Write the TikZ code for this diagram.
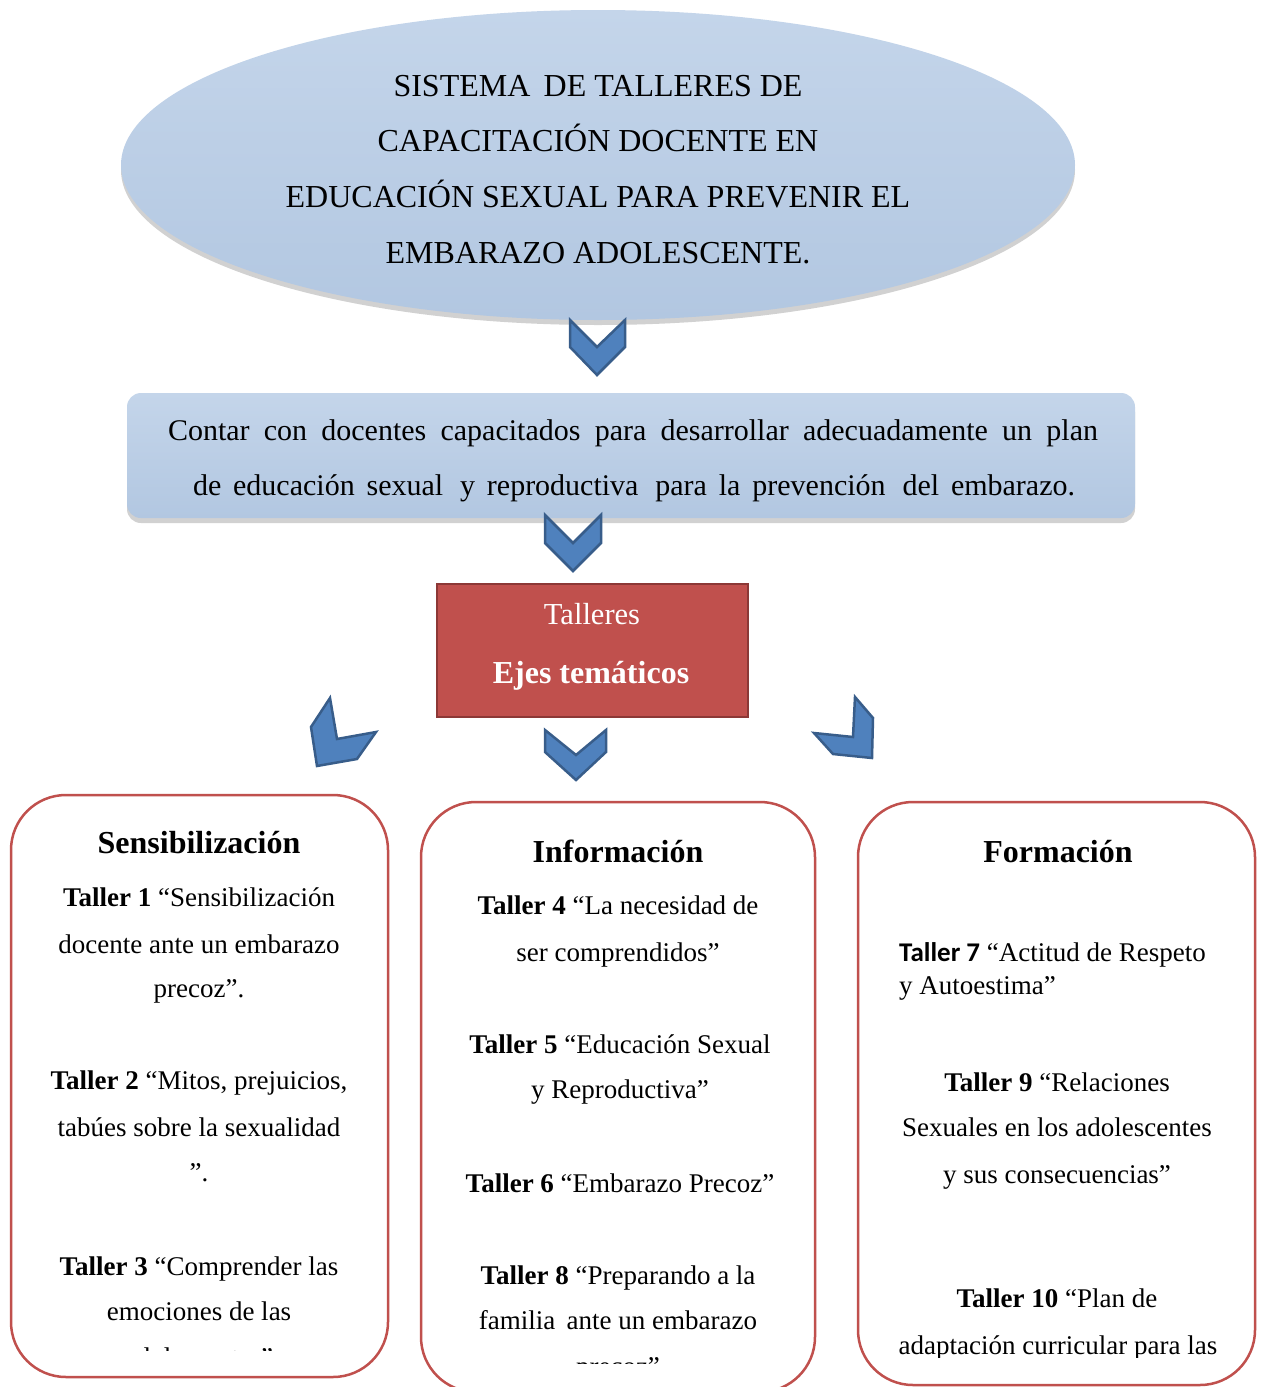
\documentclass[tikz,border=0pt]{standalone}
\usepackage{fontspec}
\setmainfont{Liberation Serif}
\newfontfamily\calib{Carlito}
\usetikzlibrary{shapes.geometric,shadows}
\definecolor{chev}{HTML}{4F81BD}
\definecolor{chevd}{HTML}{385D8A}
\definecolor{redf}{HTML}{C0504D}
\definecolor{redd}{HTML}{8C3836}
\definecolor{bluet}{HTML}{C4D5EA}
\definecolor{blueb}{HTML}{B2C7E1}
\begin{document}
\begin{tikzpicture}[x=1pt,y=-1pt,
  chevron/.style={fill=chev,draw=chevd,line width=2.5pt,line join=miter},
  themebox/.style={draw=redf,line width=2.5pt,fill=white,rounded corners=55pt},
  ttl/.style={anchor=base,inner sep=0pt,font=\fontsize{32}{38}\selectfont},
  goaltxt/.style={anchor=base,inner sep=0pt,font=\fontsize{30}{36}\selectfont},
  redtxt/.style={anchor=base,inner sep=0pt,text=white,font=\fontsize{30.5}{36}\selectfont},
  head/.style={anchor=base,inner sep=0pt,font=\fontsize{32}{38}\selectfont\bfseries},
  body/.style={anchor=base,inner sep=0pt,font=\fontsize{27}{32}\selectfont},
  bodyl/.style={body,anchor=base west},
  softshadow/.style={drop shadow={shadow xshift=0pt,shadow yshift=-5pt,fill=black!45,opacity=0.4}}]
\useasboundingbox (0,0) rectangle (1261,1387);
\fill[white] (0,0) rectangle (1261,1387);

% title ellipse
\node[ellipse,minimum width=954pt,minimum height=310pt,top color=bluet,bottom color=blueb,softshadow] (title) at (598,165) {};
\node[ttl] (t1) at (598,96) {SISTEMA\, DE TALLERES DE};
\node[ttl] (t2) at (598,151) {CAPACITACIÓN DOCENTE EN};
\node[ttl] (t3) at (598,207) {EDUCACIÓN SEXUAL PARA PREVENIR EL};
\node[ttl] (t4) at (598,263) {EMBARAZO ADOLESCENTE.};

% chevron 1
\draw[chevron] (570,320) -- (597,347) -- (625,320) -- (625,347) -- (597,375) -- (570,347) -- cycle;

% goal rectangle
\node[rectangle,rounded corners=14pt,minimum width=1008pt,minimum height=125pt,top color=bluet,bottom color=blueb,softshadow] (goal) at (631,455.5) {};
\node[goaltxt] (g1) at (633,440) {\makebox[930pt][s]{Contar con docentes capacitados para desarrollar adecuadamente un plan}};
\node[goaltxt] (g2) at (634,495) {\makebox[882pt][s]{de educación sexual\, y reproductiva\, para la prevención\, del embarazo.}};

% chevron 2
\draw[chevron] (545,515) -- (573,543) -- (601,515) -- (601,543) -- (573,571) -- (545,543) -- cycle;

% talleres box
\node[rectangle,fill=redf,draw=redd,line width=2pt,minimum width=311pt,minimum height=133pt] (talleres) at (592.5,650.5) {};
\node[redtxt] (r1) at (592,624) {Talleres};
\node[redtxt,font=\fontsize{32}{38}\selectfont\bfseries] (r2) at (591,683) {Ejes temáticos};

% three chevrons
\draw[chevron] (330,698) -- (311,727) -- (317,766) -- (357,759) -- (376,732) -- (337,739) -- cycle;
\draw[chevron] (545,730) -- (576,755) -- (606,730) -- (606,752) -- (576,780) -- (545,752) -- cycle;
\draw[chevron] (855,697) -- (873,718) -- (872,758) -- (833,754) -- (814,733) -- (853,737) -- cycle;

% theme boxes
\draw[themebox] (11,795) rectangle (388,1377);
\draw[themebox] (421,802) rectangle (815,1392);
\draw[themebox] (858,802) rectangle (1255,1385);

% box 1
\node[head] (h1) at (199,853) {Sensibilización};
\node[body] (a1) at (199,906) {\textbf{Taller 1} “Sensibilización};
\node[body] (a2) at (199,953) {docente ante un embarazo};
\node[body] (a3) at (199,997) {precoz”.};
\node[body] (a4) at (199,1089) {\textbf{Taller 2} “Mitos, prejuicios,};
\node[body] (a5) at (199,1136) {tabúes sobre la sexualidad};
\node[body] (a6) at (199,1181) {”.};
\node[body] (a7) at (199,1275) {\textbf{Taller 3} “Comprender las};
\node[body] (a8) at (199,1320) {emociones de las};
\begin{scope}
\clip (11,1300) rectangle (388,1350);
\node[body] (a9) at (199,1366) {adolescentes”};
\end{scope}

% box 2
\node[head] (h2) at (618,862) {Información};
\node[body] (b1) at (618,914) {\textbf{Taller 4} “La necesidad de};
\node[body] (b2) at (618,961) {ser comprendidos”};
\node[body] (b3) at (620,1053) {\textbf{Taller 5} “Educación Sexual};
\node[body] (b4) at (620,1098) {y Reproductiva”};
\node[body] (b5) at (620,1192) {\textbf{Taller 6} “Embarazo Precoz”};
\node[body] (b6) at (618,1284) {\textbf{Taller 8} “Preparando a la};
\node[body] (b7) at (618,1329) {familia\, ante un embarazo};
\begin{scope}
\clip (421,1300) rectangle (815,1363);
\node[body] (b8) at (618,1375) {precoz”};
\end{scope}

% box 3
\node[head] (h3) at (1058,862) {Formación};
\node[bodyl] (c1) at (899,961) {{\calib\bfseries Taller 7} “Actitud de Respeto};
\node[bodyl] (c2) at (899,994) {y Autoestima”};
\node[body] (c3) at (1057,1091) {\textbf{Taller 9} “Relaciones};
\node[body] (c4) at (1057,1136) {Sexuales en los adolescentes};
\node[body] (c5) at (1057,1183) {y sus consecuencias”};
\node[body] (c6) at (1057,1307) {\textbf{Taller 10} “Plan de};
\begin{scope}
\clip (858,1300) rectangle (1255,1357);
\node[body] (c7) at (1058,1354) {adaptación curricular para las};
\end{scope}
\end{tikzpicture}
\end{document}
